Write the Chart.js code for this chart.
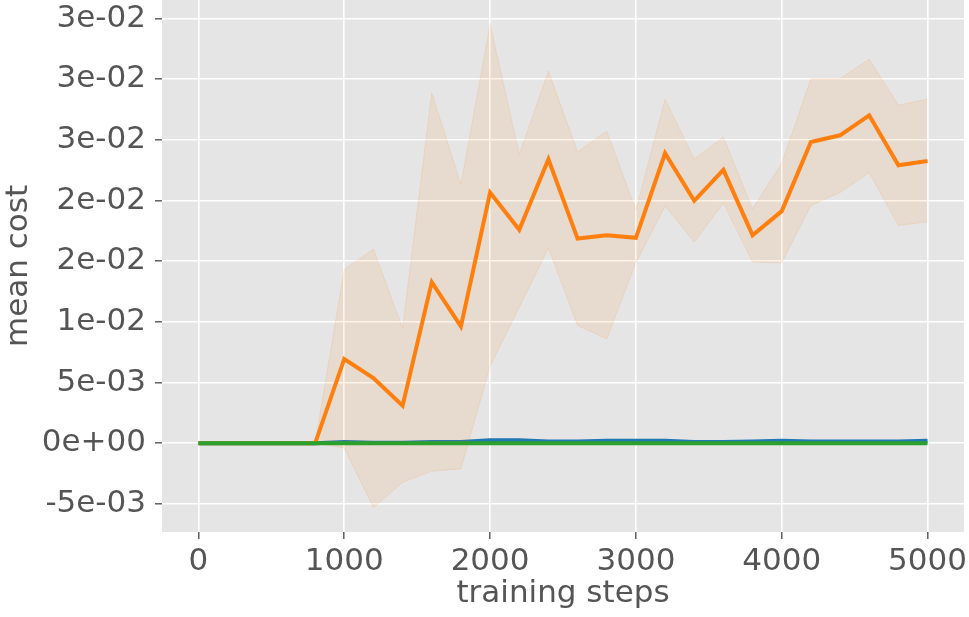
<!DOCTYPE html>
<html lang="en">
<head>
    <meta charset="UTF-8">
    <title>mean cost vs training steps</title>
    <script src="https://cdn.jsdelivr.net/npm/chart.js"></script>
    <style>
        html, body { margin: 0; padding: 0; background: #fff; }
        #wrap { width: 969px; height: 617px; }
    </style>
</head>
<body>
<div id="wrap"><canvas id="costChart" width="969" height="617"></canvas></div>
<script>
    const steps = [0, 200, 400, 600, 800, 1000, 1200, 1400, 1600, 1800, 2000, 2200, 2400,
                   2600, 2800, 3000, 3200, 3400, 3600, 3800, 4000, 4200, 4400, 4600, 4800, 5000];

    const blueMean = [0, 0, 0, 0, 0, 0.0001, 0.00005, 0.00005, 0.0001, 0.0001, 0.00025, 0.00025, 0.00015,
                      0.00015, 0.0002, 0.0002, 0.0002, 0.0001, 0.0001, 0.00015, 0.0002, 0.00015, 0.00015,
                      0.00015, 0.00015, 0.0002];

    const orangeMean = [0, 0, 0, 0, 0, 0.00695, 0.00538, 0.00310, 0.01328, 0.00963, 0.02066, 0.01759, 0.02341,
                        0.01687, 0.01715, 0.01693, 0.02390, 0.01998, 0.02253, 0.01715, 0.01913, 0.02483,
                        0.02538, 0.02703, 0.02291, 0.02327];
    const orangeUpper = [0, 0, 0, 0, 0, 0.01435, 0.01600, 0.00950, 0.02889, 0.02135, 0.03454, 0.02382, 0.03067,
                         0.02403, 0.02574, 0.01923, 0.02835, 0.02343, 0.02524, 0.01932, 0.02308, 0.03004,
                         0.03004, 0.03166, 0.02785, 0.02837];
    const orangeLower = [0, 0, 0, 0, 0, -0.00038, -0.00532, -0.00321, -0.00230, -0.00211, 0.00634, 0.01121, 0.01608,
                         0.00971, 0.00859, 0.01487, 0.01956, 0.01658, 0.01979, 0.01493, 0.01485, 0.01959,
                         0.02066, 0.02230, 0.01794, 0.01825];

    const greenMean = [0, 0, 0, 0, 0, 0, 0, 0, 0, 0, 0, 0, 0, 0, 0, 0, 0, 0, 0, 0, 0, 0, 0, 0, 0, 0];

    const xTicks = [0, 1000, 2000, 3000, 4000, 5000];
    const yTicks = [-0.005, 0, 0.005, 0.01, 0.015, 0.02, 0.025, 0.03, 0.035];
    const yTickLabels = ['-5e-03', '0e+00', '5e-03', '1e-02', '2e-02', '2e-02', '3e-02', '3e-02', '3e-02'];

    const pts = arr => steps.map((s, i) => ({ x: s, y: arr[i] }));

    // gray panel behind the plot, ggplot style
    const panelBg = {
        id: 'panelBg',
        beforeDraw(chart) {
            const { ctx, chartArea: a } = chart;
            ctx.save();
            ctx.fillStyle = '#e5e5e5';
            ctx.fillRect(a.left, a.top, a.right - a.left, a.bottom - a.top);
            ctx.restore();
        }
    };

    const fontFam = "'DejaVu Sans', sans-serif";
    const textCol = '#555555';

    new Chart(document.getElementById('costChart'), {
        type: 'line',
        data: {
            datasets: [
                {
                    data: pts(greenMean),
                    borderColor: '#2ca02c',
                    borderWidth: 4,
                    pointRadius: 0,
                    fill: false,
                    order: 0
                },
                {
                    data: pts(orangeMean),
                    borderColor: '#ff7f0e',
                    borderWidth: 4,
                    pointRadius: 0,
                    fill: false,
                    order: 1
                },
                {
                    data: pts(orangeUpper),
                    borderColor: 'rgba(255,127,14,0.12)',
                    borderWidth: 1,
                    backgroundColor: 'rgba(255,127,14,0.1)',
                    pointRadius: 0,
                    fill: '+1',
                    order: 2
                },
                {
                    data: pts(orangeLower),
                    borderColor: 'rgba(255,127,14,0.12)',
                    borderWidth: 1,
                    pointRadius: 0,
                    fill: false,
                    order: 3
                },
                {
                    data: pts(blueMean),
                    borderColor: '#1f77b4',
                    borderWidth: 4,
                    pointRadius: 0,
                    fill: false,
                    order: 4
                }
            ]
        },
        options: {
            responsive: false,
            animation: false,
            layout: { padding: { left: 0, right: 5, top: 0, bottom: 0 } },
            plugins: {
                legend: { display: false },
                tooltip: { enabled: false }
            },
            scales: {
                x: {
                    type: 'linear',
                    min: -250,
                    max: 5250,
                    afterBuildTicks: s => { s.ticks = xTicks.map(v => ({ value: v })); },
                    afterFit: s => { s.height = 85; s.paddingLeft = 0; s.paddingRight = 0; },
                    border: { display: false },
                    grid: { color: '#ffffff', lineWidth: 1.6, tickColor: textCol, tickLength: 7, tickWidth: 1.4 },
                    ticks: {
                        color: textCol,
                        font: { family: fontFam, size: 31 },
                        padding: 4,
                        maxRotation: 0,
                        callback: v => String(v)
                    },
                    title: {
                        display: true,
                        text: 'training steps',
                        color: textCol,
                        font: { family: fontFam, size: 31 },
                        padding: { top: 0, bottom: 4 }
                    }
                },
                y: {
                    min: -0.00731,
                    max: 0.03653,
                    afterBuildTicks: s => { s.ticks = yTicks.map(v => ({ value: v })); },
                    afterFit: s => { s.width = 162; s.paddingTop = 0; s.paddingBottom = 0; },
                    border: { display: false },
                    grid: { color: '#ffffff', lineWidth: 1.6, tickColor: textCol, tickLength: 7, tickWidth: 1.4 },
                    ticks: {
                        color: textCol,
                        font: { family: fontFam, size: 31 },
                        padding: 9,
                        callback: (v, i) => yTickLabels[i]
                    },
                    title: {
                        display: true,
                        text: 'mean cost',
                        color: textCol,
                        font: { family: fontFam, size: 31 },
                        padding: { top: 0, bottom: 0 }
                    }
                }
            }
        },
        plugins: [panelBg]
    });
</script>
</body>
</html>
